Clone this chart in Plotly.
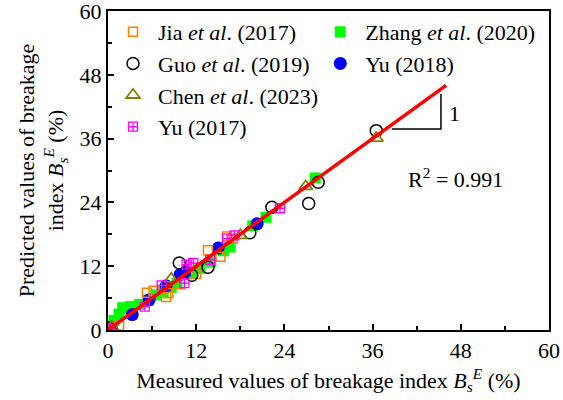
import plotly.graph_objects as go

# Measured vs predicted breakage index B_s^E (%) for each data source
jia_meas = [0.6, 1.5, 5.3, 6.2, 7.9, 8.2, 9.8, 12.0, 13.6, 15.3, 16.2, 17.0]
jia_pred = [0.4, 0.8, 7.0, 7.4, 6.2, 6.9, 8.6, 10.6, 15.0, 13.8, 17.6, 17.2]

guo_meas = [0.3, 9.7, 11.4, 13.6, 19.3, 22.3, 27.3, 28.6, 36.5]
guo_pred = [0.3, 12.6, 10.3, 11.8, 18.3, 23.1, 23.8, 27.8, 37.5]

chen_meas = [0.5, 8.6, 18.0, 26.9, 36.5]
chen_pred = [0.6, 9.6, 17.8, 27.0, 36.1]

yu17_meas = [0.3, 5.0, 7.3, 10.4, 10.7, 11.6, 13.9, 16.2, 17.2, 23.4]
yu17_pred = [0.2, 4.4, 8.4, 8.8, 12.3, 12.6, 13.2, 17.2, 17.8, 22.9]

zhang_meas = [0.3, 0.8, 1.5, 2.0, 3.0, 4.3, 5.5, 6.5, 7.5, 8.6, 9.4, 11.4,
              12.5, 14.0, 15.7, 16.6, 19.7, 21.5, 28.2]
zhang_pred = [0.8, 1.8, 3.0, 4.2, 4.4, 4.8, 5.6, 6.6, 7.2, 8.0, 8.8, 10.6,
              11.6, 12.8, 14.9, 15.6, 19.6, 21.2, 28.6]

yu18_meas = [0.4, 3.3, 5.6, 7.9, 9.8, 10.6, 15.0, 20.3]
yu18_pred = [0.5, 2.9, 5.7, 8.3, 10.4, 11.0, 15.4, 20.0]

fit_x = [0, 46]
fit_y = [0, 46]

slope_x = [38.6, 45.3, 45.3]
slope_y = [37.8, 37.8, 44.4]

r2_value = 0.991
axis_ticks = [0, 12, 24, 36, 48, 60]

FONT = "Liberation Serif, Times New Roman, serif"
FS = 22

fig = go.Figure()

# Slope triangle
fig.add_trace(go.Scatter(x=slope_x, y=slope_y, mode="lines",
                         line=dict(color="black", width=1.5),
                         showlegend=False, hoverinfo="skip"))

left_series = [
    ("Jia <i>et al</i>. (2017)", jia_meas, jia_pred,
     dict(symbol="square-open", size=9, color="#FF7F00", line=dict(width=1.5, color="#FF7F00"))),
    ("Guo <i>et al</i>. (2019)", guo_meas, guo_pred,
     dict(symbol="circle-open", size=12, color="black", line=dict(width=1.5, color="black"))),
    ("Chen <i>et al</i>. (2023)", chen_meas, chen_pred,
     dict(symbol="triangle-up-open", size=12, color="#808000", line=dict(width=1.8, color="#808000"))),
    ("Yu (2017)", yu17_meas, yu17_pred,
     dict(symbol="square-cross-open", size=9, color="#FF00FF", line=dict(width=1.3, color="#FF00FF"))),
]
right_series = [
    ("Zhang <i>et al</i>. (2020)", zhang_meas, zhang_pred,
     dict(symbol="square", size=11, color="#00FF00", line=dict(width=0))),
    ("Yu (2018)", yu18_meas, yu18_pred,
     dict(symbol="circle", size=13, color="#0000FF", line=dict(width=0))),
]

# Filled markers beneath open ones
for name, xs, ys, mk in right_series:
    fig.add_trace(go.Scatter(x=xs, y=ys, mode="markers", name=name, marker=mk,
                             legend="legend2", legendgroup=name))
for name, xs, ys, mk in left_series:
    fig.add_trace(go.Scatter(x=xs, y=ys, mode="markers", name=name, marker=mk,
                             legend="legend", legendgroup=name))

# Fitted line on top of markers
fig.add_trace(go.Scatter(x=fit_x, y=fit_y, mode="lines",
                         line=dict(color="#FF0000", width=3.5),
                         showlegend=False, hoverinfo="skip"))

fig.add_annotation(x=47.1, y=40.8, text="1", showarrow=False,
                   font=dict(family=FONT, size=FS, color="black"))
fig.add_annotation(x=47.3, y=28.6, text=f"R<sup>2</sup> = {r2_value}", showarrow=False,
                   font=dict(family=FONT, size=FS, color="black"))

axis_common = dict(
    range=[0, 60], tickvals=axis_ticks, ticks="inside", ticklen=6, tickwidth=2,
    tickcolor="black", showline=True, linecolor="black", linewidth=2, mirror=True,
    showgrid=False, zeroline=False, ticklabeloverflow="allow", automargin=False,
    tickfont=dict(family=FONT, size=FS, color="black"),
    minor=dict(dtick=6, ticks="inside", ticklen=4, tickwidth=2, tickcolor="black"),
)

fig.update_layout(
    width=563, height=400,
    margin=dict(l=108, r=14, t=11, b=70, autoexpand=False),
    paper_bgcolor="white", plot_bgcolor="white",
    font=dict(family=FONT, size=FS, color="black"),
    xaxis=dict(**axis_common,
               title=dict(text="Measured values of breakage index <i>B</i><sub><i>s</i></sub><sup><i>E</i></sup> (%)",
                          font=dict(family=FONT, size=FS), standoff=10)),
    yaxis=dict(**axis_common,
               title=dict(text="Predicted values of breakage<br>index <i>B</i><sub><i>s</i></sub><sup><i>E</i></sup> (%)",
                          font=dict(family=FONT, size=FS), standoff=10)),
    legend=dict(x=0.0, y=1.0, xanchor="left", yanchor="top", bgcolor="rgba(0,0,0,0)",
                font=dict(family=FONT, size=FS), tracegroupgap=0, itemwidth=40),
    legend2=dict(x=0.47, y=1.0, xanchor="left", yanchor="top", bgcolor="rgba(0,0,0,0)",
                 font=dict(family=FONT, size=FS), tracegroupgap=0, itemwidth=40),
)

fig.write_html("out.html")
